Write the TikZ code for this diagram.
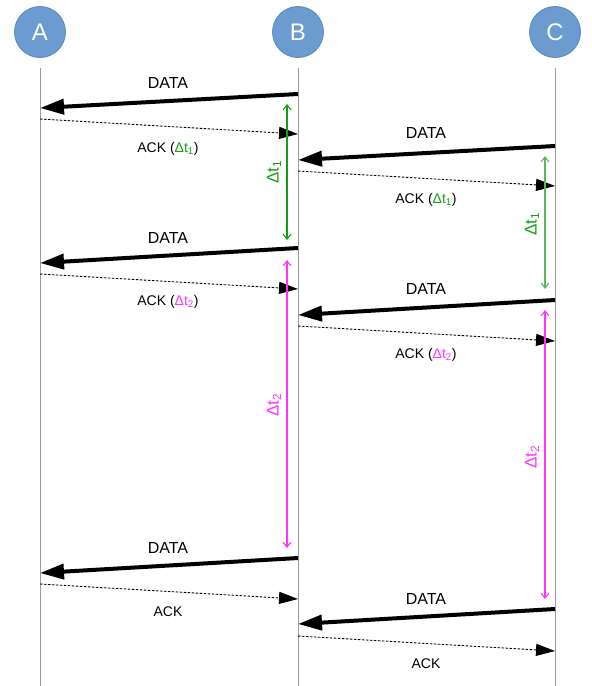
\documentclass[tikz,border=0pt]{standalone}
\usepackage{fontspec}
\setmainfont{Liberation Sans}
\usetikzlibrary{arrows.meta}
\definecolor{nodeblue}{HTML}{6C9BD0}
\definecolor{nodeedge}{HTML}{5A87BF}
\definecolor{lifegray}{HTML}{9A9A9A}
\definecolor{dtgreen}{HTML}{12A012}
\definecolor{dtline}{HTML}{5DB85D}
\definecolor{dtmag}{HTML}{FF33FF}
\tikzset{
  party/.style={circle, fill=nodeblue, draw=nodeedge, line width=0.8pt,
    minimum size=51pt, inner sep=0pt, text=white, font=\fontsize{24}{24}\selectfont},
  lifeline/.style={draw=lifegray, line width=1pt},
  datamsg/.style={line width=4pt, -{Triangle[length=24pt,width=15pt]}},
  ackmsg/.style={line width=0.9pt, dash pattern=on 2.5pt off 1.5pt,
    -{Triangle[length=19pt,width=12pt]}},
  msglabel/.style={font=\fontsize{16}{16}\selectfont},
  acklabel/.style={font=\fontsize{14}{14}\selectfont},
  interval/.style={line width=1.1pt, {Straight Barb[length=5pt,width=8pt]}-{Straight Barb[length=5pt,width=8pt]}},
  dtlabel/.style={rotate=90, font=\fontsize{17}{17}\selectfont},
}
\newcommand{\dtone}{\textcolor{dtgreen}{Δt\textsubscript{1}}}
\newcommand{\dttwo}{\textcolor{dtmag}{Δt\textsubscript{2}}}
\begin{document}
\begin{tikzpicture}[x=1pt, y=-1pt]
  \useasboundingbox (0,0) rectangle (592,686);

  % parties
  \node[party] (A) at (40,32) {A};
  \node[party] (B) at (298,32) {B};
  \node[party] (C) at (555,32) {C};

  % lifelines
  \coordinate (Atop) at (40,68);   \coordinate (Abot) at (40,686);
  \coordinate (Btop) at (298,68);  \coordinate (Bbot) at (298,686);
  \coordinate (Ctop) at (555,68);  \coordinate (Cbot) at (555,686);
  \draw[lifeline] (Atop) -- (Abot);
  \draw[lifeline] (Btop) -- (Bbot);
  \draw[lifeline] (Ctop) -- (Cbot);

  % message end points
  \coordinate (b1) at (298,94);  \coordinate (a1) at (40,108);
  \coordinate (a1k) at (40,119); \coordinate (b1k) at (298,134);
  \coordinate (c2) at (555,146); \coordinate (b2) at (298,160);
  \coordinate (b2k) at (298,171); \coordinate (c2k) at (555,186);
  \coordinate (b3) at (298,248); \coordinate (a3) at (40,263);
  \coordinate (a3k) at (40,274); \coordinate (b3k) at (298,289);
  \coordinate (c4) at (555,300); \coordinate (b4) at (298,315);
  \coordinate (b4k) at (298,326); \coordinate (c4k) at (555,341);
  \coordinate (b5) at (298,558); \coordinate (a5) at (40,573);
  \coordinate (a5k) at (40,584); \coordinate (b5k) at (298,599);
  \coordinate (c6) at (555,609); \coordinate (b6) at (298,624);
  \coordinate (b6k) at (298,636); \coordinate (c6k) at (555,651);

  % B <-> A exchanges
  \draw[datamsg] (b1) -- (a1);
  \node[msglabel] (l1) at (168,83) {DATA};
  \draw[ackmsg] (a1k) -- (b1k);
  \node[acklabel] (k1) at (168,149) {ACK (\dtone)};

  \draw[datamsg] (b3) -- (a3);
  \node[msglabel] (l3) at (168,238) {DATA};
  \draw[ackmsg] (a3k) -- (b3k);
  \node[acklabel] (k3) at (168,302) {ACK (\dttwo)};

  \draw[datamsg] (b5) -- (a5);
  \node[msglabel] (l5) at (168,548) {DATA};
  \draw[ackmsg] (a5k) -- (b5k);
  \node[acklabel] (k5) at (168,612) {ACK};

  % C <-> B exchanges
  \draw[datamsg] (c2) -- (b2);
  \node[msglabel] (l2) at (426,133) {DATA};
  \draw[ackmsg] (b2k) -- (c2k);
  \node[acklabel] (k2) at (426,200) {ACK (\dtone)};

  \draw[datamsg] (c4) -- (b4);
  \node[msglabel] (l4) at (426,289) {DATA};
  \draw[ackmsg] (b4k) -- (c4k);
  \node[acklabel] (k4) at (426,355) {ACK (\dttwo)};

  \draw[datamsg] (c6) -- (b6);
  \node[msglabel] (l6) at (426,599) {DATA};
  \draw[ackmsg] (b6k) -- (c6k);
  \node[acklabel] (k6) at (426,664) {ACK};

  % intervals at B
  \coordinate (iB1s) at (287,104); \coordinate (iB1e) at (287,240);
  \draw[interval, draw=dtgreen] (iB1s) -- (iB1e);
  \node[dtlabel, text=dtgreen] (tB1) at (274,172) {Δt\textsubscript{1}};
  \coordinate (iB2s) at (287,260); \coordinate (iB2e) at (287,548);
  \draw[interval, draw=dtmag] (iB2s) -- (iB2e);
  \node[dtlabel, text=dtmag] (tB2) at (274,405) {Δt\textsubscript{2}};

  % intervals at C
  \coordinate (iC1s) at (545,156); \coordinate (iC1e) at (545,289);
  \draw[interval, draw=dtline] (iC1s) -- (iC1e);
  \node[dtlabel, text=dtgreen] (tC1) at (532,224) {Δt\textsubscript{1}};
  \coordinate (iC2s) at (545,310); \coordinate (iC2e) at (545,599);
  \draw[interval, draw=dtmag] (iC2s) -- (iC2e);
  \node[dtlabel, text=dtmag] (tC2) at (532,457) {Δt\textsubscript{2}};
\end{tikzpicture}
\end{document}
